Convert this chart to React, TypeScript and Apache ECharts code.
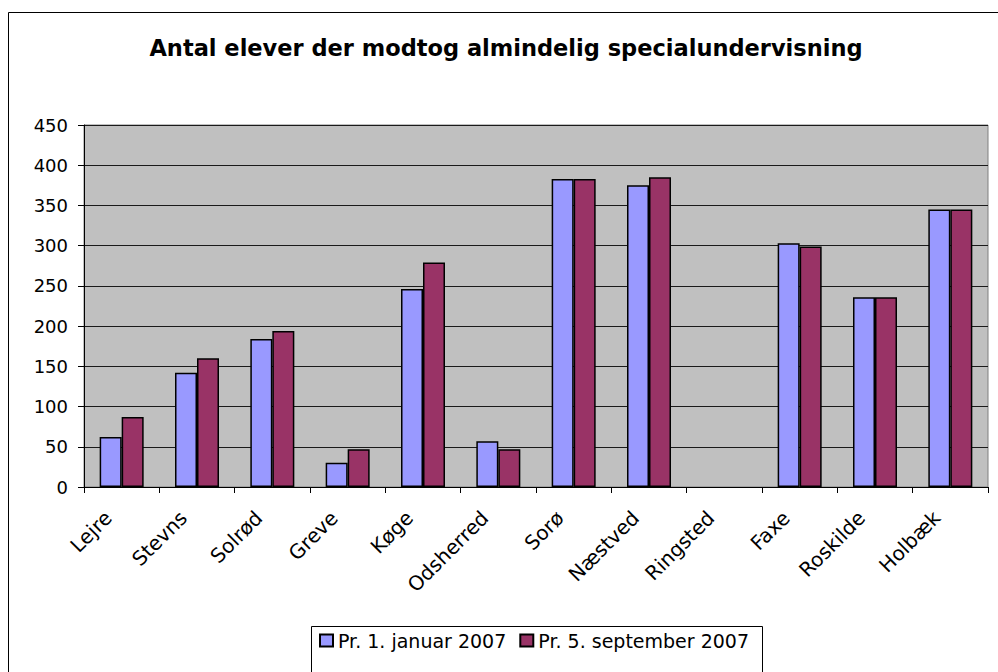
import React, { useEffect, useRef } from "react";
import * as echarts from "echarts";

const titleText = "Antal elever der modtog almindelig specialundervisning";
const categories = [
  "Lejre",
  "Stevns",
  "Solrød",
  "Greve",
  "Køge",
  "Odsherred",
  "Sorø",
  "Næstved",
  "Ringsted",
  "Faxe",
  "Roskilde",
  "Holbæk",
];
const seriesNames = ["Pr. 1. januar 2007", "Pr. 5. september 2007"];
const januar = [62, 142, 184, 30, 246, 57, 383, 375, null, 303, 236, 345];
const september = [87, 160, 194, 47, 279, 47, 383, 385, null, 299, 236, 345];

const FONT = "DejaVu Sans";

export default function App() {
  const ref = useRef<HTMLDivElement>(null);
  useEffect(() => {
    if (!ref.current) return;
    const chart = echarts.init(ref.current, null, { renderer: "svg" });
    chart.setOption({
      animation: false,
      backgroundColor: "#ffffff",
      textStyle: { fontFamily: FONT },
      grid: {
        left: 84,
        right: 10,
        top: 125,
        bottom: 185,
        show: true,
        backgroundColor: "#C0C0C0",
        borderColor: "#808080",
        borderWidth: 1,
      },
      legend: {
        left: 319,
        top: 631,
        padding: 0,
        itemWidth: 13,
        itemHeight: 12,
        itemGap: 13,
        icon: "rect",
        textStyle: { fontFamily: FONT, fontSize: 19, color: "#000", lineHeight: 19 },
        data: seriesNames,
      },
      xAxis: {
        type: "category",
        data: categories,
        axisLine: { show: true, lineStyle: { color: "#000", width: 1 } },
        axisTick: { show: true, length: 6, alignWithLabel: false, lineStyle: { color: "#000" } },
        axisLabel: {
          interval: 0,
          rotate: 45,
          fontFamily: FONT,
          fontSize: 20,
          color: "#000",
          margin: 14,
          formatter: (v: string) => v + "\u00A0\u00A0\u00A0",
        },
        splitLine: { show: false },
      },
      yAxis: {
        type: "value",
        min: 0,
        max: 450,
        interval: 50,
        axisLine: { show: true, lineStyle: { color: "#000", width: 1 } },
        axisTick: { show: true, length: 6, lineStyle: { color: "#000" } },
        axisLabel: { fontFamily: FONT, fontSize: 18, color: "#000", margin: 16 },
        splitLine: { show: true, lineStyle: { color: "#1a1a1a", width: 1 } },
      },
      series: [
        {
          name: seriesNames[0],
          type: "bar",
          data: januar,
          barWidth: 22,
          barGap: "0%",
          itemStyle: { color: "#9999FF", borderColor: "#000", borderWidth: 1.5 },
        },
        {
          name: seriesNames[1],
          type: "bar",
          data: september,
          barWidth: 22,
          barGap: "0%",
          itemStyle: { color: "#993366", borderColor: "#000", borderWidth: 1.5 },
        },
      ],
      graphic: [
        {
          type: "rect",
          silent: true,
          z: -1,
          shape: { x: 8.5, y: 12.5, width: 1100, height: 800 },
          style: { fill: "none", stroke: "#000", lineWidth: 1 },
        },
        {
          type: "rect",
          silent: true,
          shape: { x: 311.5, y: 626.5, width: 451, height: 80 },
          style: { fill: "none", stroke: "#000", lineWidth: 1 },
        },
        {
          type: "text",
          x: 506,
          y: 48,
          style: {
            text: titleText,
            fontFamily: FONT,
            fontWeight: "bold",
            fontSize: 22.5,
            fill: "#000",
            align: "center",
            verticalAlign: "middle",
          },
        },
      ],
    });
    return () => chart.dispose();
  }, []);
  return (
    <div
      ref={ref}
      style={{ position: "absolute", left: 0, top: 0, width: 998, height: 672 }}
    />
  );
}
